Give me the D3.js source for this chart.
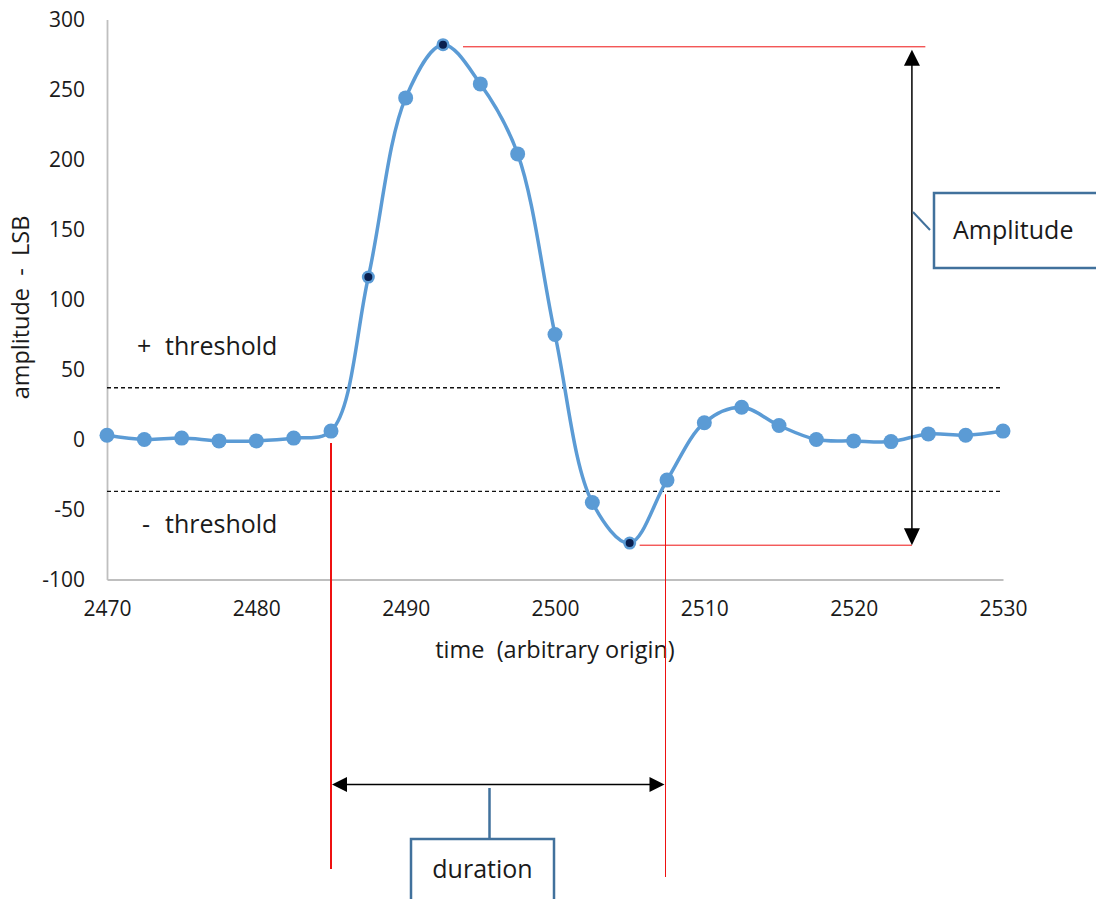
<!DOCTYPE html>
<html>
<head>
<meta charset="utf-8">
<script src="https://cdn.jsdelivr.net/npm/d3@7"></script>
<style>
  html, body { margin: 0; padding: 0; background: #fff; }
  svg { display: block; font-family: "Open Sans", "Liberation Sans", sans-serif; }
</style>
</head>
<body>
<svg id="chart" width="1096" height="899"></svg>
<script>
// Sampled pulse: time (arbitrary origin) and amplitude in LSB
const times = [2470, 2472.5, 2475, 2477.5, 2480, 2482.5, 2485, 2487.5, 2490, 2492.5,
               2495, 2497.5, 2500, 2502.5, 2505, 2507.5, 2510, 2512.5, 2515, 2517.5,
               2520, 2522.5, 2525, 2527.5, 2530];
const amplitudes = [3, 0, 1, -1, -1, 1, 6, 116, 244, 282,
                    254, 204, 75, -45, -74, -29, 12, 23, 10, 0,
                    -1, -1.5, 4, 3, 6];
// Samples drawn with a dark centre (threshold crossing, peak, trough)
const keyTimes = [2487.5, 2492.5, 2505];

const xTicks = [2470, 2480, 2490, 2500, 2510, 2520, 2530];
const yTicks = [-100, -50, 0, 50, 100, 150, 200, 250, 300];

// Detection thresholds
const thresholdPos = 37;
const thresholdNeg = -37;

// Amplitude and duration annotation values
const ampTop = 280.5;
const ampBottom = -75.5;
const ampTime = 2523.9;
const durStart = 2485;
const durEnd = 2507.4;

const svg = d3.select("#chart");

const x = d3.scaleLinear().domain([2470, 2530]).range([107, 1003]);
const y = d3.scaleLinear().domain([-100, 300]).range([579.5, 19.5]);

const textColor = "#1a1a1a";
const axisColor = "#bfbfbf";
const lineBlue = "#5b9bd5";
const boxBlue = "#41719c";
const red = "#ee1111";

// Axes (plain hyphen for negative labels)
const fmt = d => String(d);
const yAxis = svg.append("g")
  .attr("transform", `translate(${x(2470)},0)`)
  .call(d3.axisLeft(y).tickValues(yTicks).tickSize(0).tickPadding(22).tickFormat(fmt));
const xAxis = svg.append("g")
  .attr("transform", `translate(0,${y(-100)})`)
  .call(d3.axisBottom(x).tickValues(xTicks).tickSize(0).tickPadding(22).tickFormat(fmt));

[yAxis, xAxis].forEach(g => {
  g.select(".domain").attr("stroke", axisColor).attr("stroke-width", 1.8);
  g.selectAll("text").attr("fill", textColor).style("font-size", "21px")
    .style("font-family", "'Open Sans', sans-serif");
});

// Axis titles
svg.append("text")
  .attr("transform", `translate(29,${(y(300) + y(-100)) / 2 + 8}) rotate(-90)`)
  .attr("text-anchor", "middle")
  .attr("fill", textColor)
  .style("font-size", "23.5px")
  .style("white-space", "pre")
  .text("amplitude  -  LSB");

svg.append("text")
  .attr("x", 555).attr("y", 658)
  .attr("text-anchor", "middle")
  .attr("fill", textColor)
  .style("font-size", "23.5px")
  .style("white-space", "pre")
  .text("time  (arbitrary origin)");

// Threshold lines
svg.append("line")
  .attr("x1", x(2470)).attr("x2", x(2529.8))
  .attr("y1", y(thresholdPos)).attr("y2", y(thresholdPos))
  .attr("stroke", "#111").attr("stroke-width", 1.6).attr("stroke-dasharray", "4,3");
svg.append("line")
  .attr("x1", x(2470)).attr("x2", x(2529.8))
  .attr("y1", y(thresholdNeg)).attr("y2", y(thresholdNeg))
  .attr("stroke", "#111").attr("stroke-width", 1.2).attr("stroke-dasharray", "4,3");

// Threshold labels
const posLabel = svg.append("text").attr("y", 355).attr("fill", textColor).style("font-size", "25px");
posLabel.append("tspan").attr("x", 137).text("+");
posLabel.append("tspan").attr("x", 165).text("threshold");
const negLabel = svg.append("text").attr("y", 533).attr("fill", textColor).style("font-size", "25px");
negLabel.append("tspan").attr("x", 142).text("-");
negLabel.append("tspan").attr("x", 165).text("threshold");

// Amplitude guide lines from peak and trough
svg.append("line")
  .attr("x1", x(2492.5) + 20).attr("x2", x(2524.8))
  .attr("y1", y(ampTop)).attr("y2", y(ampTop))
  .attr("stroke", red).attr("stroke-width", 1);
svg.append("line")
  .attr("x1", x(2505) + 10).attr("x2", x(ampTime))
  .attr("y1", y(ampBottom)).attr("y2", y(ampBottom))
  .attr("stroke", red).attr("stroke-width", 1);

// Duration guide lines
svg.append("line")
  .attr("x1", x(durStart)).attr("x2", x(durStart))
  .attr("y1", y(-2.5)).attr("y2", 869)
  .attr("stroke", red).attr("stroke-width", 2);
svg.append("line")
  .attr("x1", x(durEnd)).attr("x2", x(durEnd))
  .attr("y1", y(thresholdNeg) + 3).attr("y2", 877)
  .attr("stroke", red).attr("stroke-width", 1);

// Pulse curve
const line = d3.line()
  .x((d, i) => x(times[i]))
  .y(d => y(d))
  .curve(d3.curveCatmullRom.alpha(0.5));

svg.append("path")
  .datum(amplitudes)
  .attr("d", line)
  .attr("fill", "none")
  .attr("stroke", lineBlue)
  .attr("stroke-width", 3.5);

const pts = times.map((t, i) => ({ t, v: amplitudes[i], key: keyTimes.includes(t) }));

svg.append("g").selectAll("circle")
  .data(pts)
  .join("circle")
  .attr("cx", d => x(d.t))
  .attr("cy", d => y(d.v))
  .attr("r", d => d.key ? 6.5 : 7.5)
  .attr("fill", lineBlue);

svg.append("g").selectAll("circle")
  .data(pts.filter(d => d.key))
  .join("circle")
  .attr("cx", d => x(d.t))
  .attr("cy", d => y(d.v))
  .attr("r", 4)
  .attr("fill", "#0a1f4e");

// Amplitude double arrow
const ax = x(ampTime);
const yTopTip = y(ampTop) + 3;
const yBotTip = y(ampBottom);
svg.append("line")
  .attr("x1", ax).attr("x2", ax)
  .attr("y1", yTopTip + 10).attr("y2", yBotTip - 10)
  .attr("stroke", "#000").attr("stroke-width", 1.5);
svg.append("path")
  .attr("d", `M${ax},${yTopTip} L${ax - 8},${yTopTip + 16} L${ax + 8},${yTopTip + 16} Z`)
  .attr("fill", "#000");
svg.append("path")
  .attr("d", `M${ax},${yBotTip} L${ax - 8},${yBotTip - 17} L${ax + 8},${yBotTip - 17} Z`)
  .attr("fill", "#000");

// Amplitude callout
svg.append("line")
  .attr("x1", 913).attr("y1", 212).attr("x2", 930).attr("y2", 230)
  .attr("stroke", boxBlue).attr("stroke-width", 2);
svg.append("rect")
  .attr("x", 934).attr("y", 193).attr("width", 180).attr("height", 75)
  .attr("fill", "#fff").attr("stroke", boxBlue).attr("stroke-width", 2.5);
svg.append("text")
  .attr("x", 953).attr("y", 239)
  .attr("fill", textColor)
  .style("font-size", "25px")
  .text("Amplitude");

// Duration double arrow
const dy = 784.5;
const dx1 = x(durStart), dx2 = x(durEnd);
svg.append("line")
  .attr("x1", dx1 + 10).attr("x2", dx2 - 10)
  .attr("y1", dy).attr("y2", dy)
  .attr("stroke", "#000").attr("stroke-width", 1.5);
svg.append("path")
  .attr("d", `M${dx1 + 1},${dy} L${dx1 + 16},${dy - 7.5} L${dx1 + 16},${dy + 7.5} Z`)
  .attr("fill", "#000");
svg.append("path")
  .attr("d", `M${dx2 - 1},${dy} L${dx2 - 16},${dy - 7.5} L${dx2 - 16},${dy + 7.5} Z`)
  .attr("fill", "#000");

// Duration callout
svg.append("line")
  .attr("x1", 489.5).attr("x2", 489.5)
  .attr("y1", 788).attr("y2", 839)
  .attr("stroke", boxBlue).attr("stroke-width", 2.5);
svg.append("rect")
  .attr("x", 411).attr("y", 839).attr("width", 143).attr("height", 80)
  .attr("fill", "#fff").attr("stroke", boxBlue).attr("stroke-width", 2.5);
svg.append("text")
  .attr("x", 482.5).attr("y", 878)
  .attr("text-anchor", "middle")
  .attr("fill", textColor)
  .style("font-size", "25px")
  .text("duration");
</script>
</body>
</html>
